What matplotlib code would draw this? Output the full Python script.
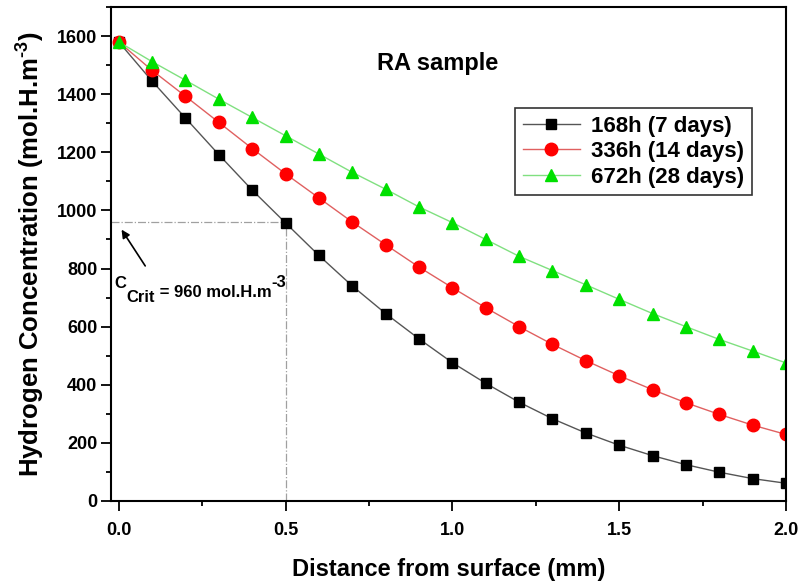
import matplotlib
matplotlib.use("Agg")
import matplotlib.pyplot as plt
from matplotlib.ticker import MultipleLocator, FormatStrFormatter

plt.rcParams['font.family'] = ['Liberation Sans', 'DejaVu Sans']
plt.rcParams['font.weight'] = 'bold'
plt.rcParams['mathtext.fontset'] = 'custom'
plt.rcParams['mathtext.rm'] = 'Liberation Sans:bold'
plt.rcParams['mathtext.bf'] = 'Liberation Sans:bold'

distance = [0.0, 0.1, 0.2, 0.3, 0.4, 0.5, 0.6, 0.7, 0.8, 0.9, 1.0,
            1.1, 1.2, 1.3, 1.4, 1.5, 1.6, 1.7, 1.8, 1.9, 2.0]
conc_168h = [1580, 1445, 1318, 1192, 1070, 957, 845, 740, 645, 558, 476,
             405, 340, 283, 234, 192, 156, 125, 99, 77, 61]
conc_336h = [1580, 1482, 1393, 1303, 1213, 1126, 1043, 960, 882, 805, 734,
             665, 600, 539, 483, 431, 383, 338, 298, 261, 229]
conc_672h = [1580, 1512, 1448, 1383, 1320, 1257, 1194, 1131, 1073, 1012, 958,
             900, 842, 793, 744, 694, 645, 600, 556, 516, 475]
labels = ['168h (7 days)', '336h (14 days)', '672h (28 days)']
c_crit = 960
x_crit = 0.5

fig = plt.figure(figsize=(8, 5.85), dpi=100)
ax = fig.add_axes([0.139, 0.1436, 0.8436, 0.8444])

ax.plot(distance, conc_168h, '-', color='#555555', lw=1.0,
        marker='s', ms=7.5, mfc='black', mec='black', label=labels[0])
ax.plot(distance, conc_336h, '-', color='#e06060', lw=1.0,
        marker='o', ms=9, mfc='#ff0000', mec='#ff0000', label=labels[1])
ax.plot(distance, conc_672h, '-', color='#80e080', lw=1.0,
        marker='^', ms=9, mfc='#00e000', mec='#00e000', label=labels[2])

# critical concentration guide lines
ax.plot([-0.0225, x_crit], [c_crit, c_crit], color='#a0a0a0', lw=0.9,
        ls='-.', zorder=1)
ax.plot([x_crit, x_crit], [0, c_crit], color='#a0a0a0', lw=0.9,
        ls='-.', zorder=1)

ax.annotate('', xy=(0.004, 942), xytext=(0.084, 801),
            arrowprops=dict(arrowstyle='-|>', color='black', lw=1.2,
                            mutation_scale=12))

t1 = ax.text(-0.012, 733, 'C', fontsize=12, fontweight='bold', va='baseline')
t2 = ax.annotate('Crit', xy=(1, 0), xycoords=t1, xytext=(0, -8),
                 textcoords='offset points', fontsize=12, fontweight='bold',
                 va='baseline', ha='left')
t3 = ax.annotate(' = 960 mol.H.m', xy=(1, 0), xycoords=t2, xytext=(0, 6),
                 textcoords='offset points', fontsize=12, fontweight='bold',
                 va='baseline', ha='left')
ax.annotate('-3', xy=(1, 0), xycoords=t3, xytext=(0, 9),
            textcoords='offset points', fontsize=12, fontweight='bold',
            va='baseline', ha='left')

ax.text(0.4844, 0.885, 'RA sample', transform=ax.transAxes, fontsize=17,
        fontweight='bold', ha='center', va='center')

ax.set_xlim(-0.0225, 2.0)
ax.set_ylim(0, 1700)
ax.xaxis.set_major_locator(MultipleLocator(0.5))
ax.xaxis.set_minor_locator(MultipleLocator(0.25))
ax.yaxis.set_major_locator(MultipleLocator(200))
ax.yaxis.set_minor_locator(MultipleLocator(100))
ax.xaxis.set_major_formatter(FormatStrFormatter('%.1f'))
ax.tick_params(which='major', direction='out', length=7, width=1.3,
               labelsize=13)
ax.tick_params(axis='x', which='major', pad=8)
ax.tick_params(axis='y', which='major', pad=3)
ax.tick_params(which='minor', direction='out', length=3.5, width=1.3)
for lab in ax.get_xticklabels() + ax.get_yticklabels():
    lab.set_fontweight('bold')
for sp in ax.spines.values():
    sp.set_linewidth(1.5)

ax.set_xlabel('Distance from surface (mm)', fontsize=17, fontweight='bold',
              labelpad=14)
ax.set_ylabel(r'Hydrogen Concentration (mol.H.m$^{\text{-3}}$)',
              fontsize=18.5, fontweight='bold', labelpad=8)

leg = ax.legend(loc='upper right', bbox_to_anchor=(0.95, 0.7955),
                fontsize=16, frameon=True, fancybox=False, borderpad=0.35,
                handlelength=2.6, handletextpad=0.5, labelspacing=0.2,
                borderaxespad=0)
leg.get_frame().set_edgecolor('black')
leg.get_frame().set_linewidth(1.2)
for txt in leg.get_texts():
    txt.set_fontweight('bold')

fig.savefig('out.png', dpi=100)
